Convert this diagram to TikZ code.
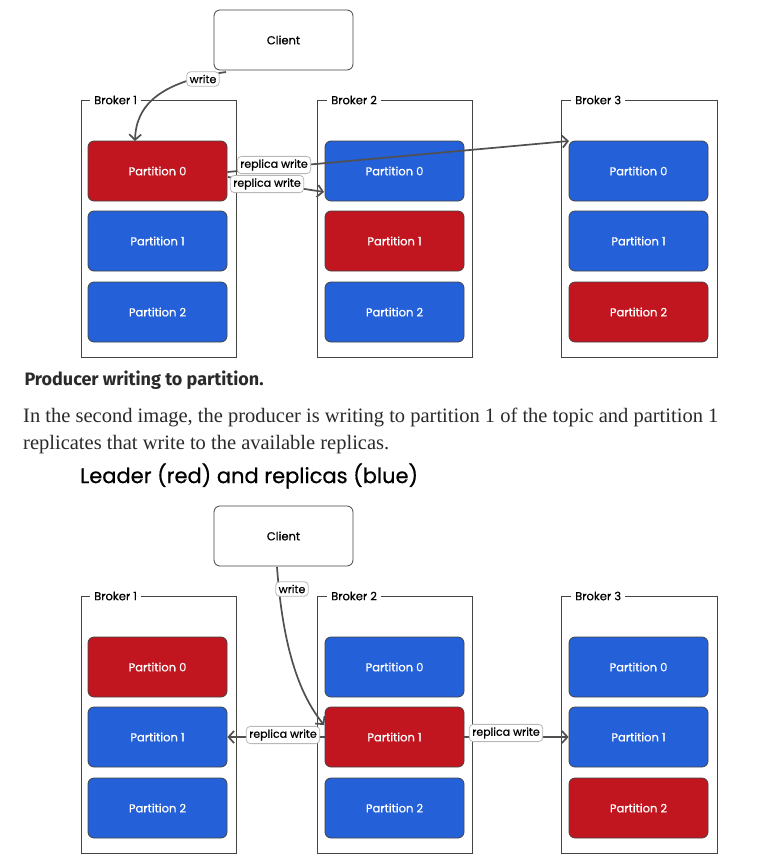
\documentclass[tikz,border=0pt]{standalone}
\usepackage{fontspec}
\setmainfont{Liberation Serif}
\newfontfamily\diagfont{Poppins}[FakeBold=0.6]
\newfontfamily\headfont{Fira Sans}
\usetikzlibrary{arrows.meta}
\definecolor{leadred}{HTML}{C1151F}
\definecolor{repblue}{HTML}{2460D8}
\definecolor{edgegray}{HTML}{444444}
\definecolor{flowgray}{HTML}{505050}
\definecolor{bodytext}{HTML}{2A2A2A}
\begin{document}
\begin{tikzpicture}[x=1pt, y=-1pt,
    client/.style={draw=edgegray, line width=.8pt, fill=white, rounded corners=6pt, minimum width=139pt, minimum height=60pt, font=\diagfont\fontsize{11.5}{13}\selectfont},
    broker/.style={draw=edgegray, line width=.7pt},
    brokername/.style={fill=white, inner xsep=4pt, inner ysep=2pt, anchor=west, font=\diagfont\fontsize{11.5}{13}\selectfont},
    part/.style={draw=edgegray, line width=.8pt, rounded corners=6pt, minimum width=139pt, minimum height=60pt, text=white, font=\diagfont\fontsize{11.5}{13}\selectfont},
    leader/.style={part, fill=leadred},
    replica/.style={part, fill=repblue},
    flow/.style={draw=flowgray, line width=1.7pt, -{Straight Barb[length=5.5pt,width=12pt]}},
    lbl/.style={fill=white, draw=black!28, line width=.8pt, rounded corners=4pt, inner xsep=3pt, inner ysep=3pt, font=\diagfont\fontsize{11}{12}\selectfont}]
\useasboundingbox (0,0) rectangle (780,860);

% first picture
\node[client] (cl1) at (283.5,40) {Client};
\draw[broker] (81,100) rectangle (236,357);
\draw[broker] (317,100) rectangle (472,357);
\draw[broker] (561,100) rectangle (717,357);
\node[brokername] (b11) at (90,100) {Broker 1};
\node[brokername] (b12) at (327,100) {Broker 2};
\node[brokername] (b13) at (571,100) {Broker 3};
\node[leader] (p10a) at (157.5,171) {Partition 0};
\node[replica] (p11a) at (157.5,241) {Partition 1};
\node[replica] (p12a) at (157.5,312) {Partition 2};
\node[replica] (p20a) at (394.5,171) {Partition 0};
\node[leader] (p21a) at (394.5,241) {Partition 1};
\node[replica] (p22a) at (394.5,312) {Partition 2};
\node[replica] (p30a) at (638.5,171) {Partition 0};
\node[replica] (p31a) at (638.5,241) {Partition 1};
\node[leader] (p32a) at (638.5,312) {Partition 2};
\coordinate (wsa) at (226,72);
\coordinate (wea) at (135,141);
\draw[flow] (wsa) .. controls (160,82) and (136,105) .. (wea);
\node[lbl] (wla) at (203,79) {write};
\draw[flow] (p10a.east) ++(0,1) coordinate (ra) -- (569,141) coordinate (rb);
\node[lbl] (rla) at (274,165) {replica write};
\draw[flow] (228,177) coordinate (rc) -- (324,192) coordinate (rd);
\node[lbl] (rlb) at (267,184) {replica write};

% text between the pictures
\node[anchor=west, text=bodytext, font=\headfont\bfseries\fontsize{18}{22}\selectfont] (head) at (21,380) {Producer writing to partition.};
\node[anchor=north west, text=bodytext, align=left, inner sep=0pt, font=\fontsize{20.5}{27}\selectfont] (para) at (23,408)
    {In the second image, the producer is writing to partition 1 of the topic and partition 1\\replicates that write to the available replicas.};
\node[anchor=west, inner sep=0pt, font=\diagfont\fontsize{21}{24}\selectfont] (cap) at (80,476) {Leader (red) and replicas (blue)};

% second picture
\node[client] (cl2) at (283.5,536) {Client};
\draw[broker] (81,596) rectangle (236,853);
\draw[broker] (317,596) rectangle (472,853);
\draw[broker] (561,596) rectangle (717,853);
\node[brokername] (b21) at (90,596) {Broker 1};
\node[brokername] (b22) at (327,596) {Broker 2};
\node[brokername] (b23) at (571,596) {Broker 3};
\node[leader] (p10b) at (157.5,667) {Partition 0};
\node[replica] (p11b) at (157.5,737) {Partition 1};
\node[replica] (p12b) at (157.5,808) {Partition 2};
\node[replica] (p20b) at (394.5,667) {Partition 0};
\node[leader] (p21b) at (394.5,737) {Partition 1};
\node[replica] (p22b) at (394.5,808) {Partition 2};
\node[replica] (p30b) at (638.5,667) {Partition 0};
\node[replica] (p31b) at (638.5,737) {Partition 1};
\node[leader] (p32b) at (638.5,808) {Partition 2};
\coordinate (wsb) at (277,567);
\coordinate (web) at (324,725);
\draw[flow] (wsb) .. controls (283,650) and (300,695) .. (web);
\node[lbl] (wlb) at (292,589) {write};
\draw[flow] (p21b.west) -- (p11b.east);
\node[lbl] (rlc) at (283,735) {replica write};
\draw[flow] (p21b.east) -- (p31b.west);
\node[lbl] (rld) at (506,733) {replica write};
\end{tikzpicture}
\end{document}
